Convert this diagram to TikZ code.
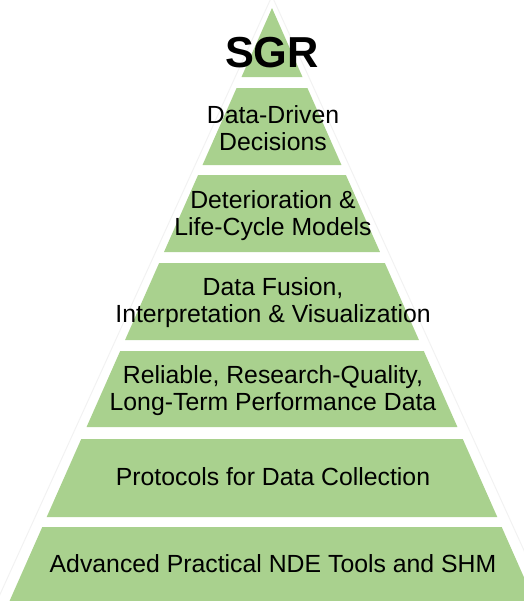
\documentclass[tikz,border=0pt]{standalone}
\usepackage{fontspec}
\setmainfont{Liberation Sans}
\definecolor{sgrgreen}{RGB}{169,209,142}

\begin{document}
\begin{tikzpicture}[x=0.75pt,y=-0.75pt]
	\tikzstyle{tier}=[fill=sgrgreen,draw=none]
	\tikzstyle{tiertext}=[align=center,inner sep=0pt,font=\fontsize{18.6}{20.3}\selectfont]
	\tikzstyle{rim}=[draw=black!5,line width=0.75pt]

	\clip (0,0) rectangle (524,601);

	\draw[rim] (-3,601) -- (272,-4) -- (547,601);

	\fill[tier] (272,8) -- (302.5,77) -- (241.5,77) -- cycle;
	\foreach \top/\bot in {88/165,175/252,263/340,351/427,439/517,527/601}
		\fill[tier] ({272-0.4426*(\top-8)},\top) -- ({272+0.4426*(\top-8)},\top)
			-- ({272+0.4426*(\bot-8)},\bot) -- ({272-0.4426*(\bot-8)},\bot) -- cycle;

	\node[tiertext,font=\fontsize{32.5}{32.5}\selectfont\bfseries] (sgr) at (272,53) {SGR};
	\node[tiertext] (decisions) at (273,128) {Data-Driven\\Decisions};
	\node[tiertext] (models) at (273,216) {Deterioration \&\\Life-Cycle Models};
	\node[tiertext] (fusion) at (273,303) {Data Fusion,\\Interpretation \& Visualization};
	\node[tiertext] (perfdata) at (273,391) {Reliable, Research-Quality,\\Long-Term Performance Data};
	\node[tiertext] (protocols) at (273,477) {Protocols for Data Collection};
	\node[tiertext] (tools) at (273,564) {Advanced Practical NDE Tools and SHM};
\end{tikzpicture}
\end{document}
